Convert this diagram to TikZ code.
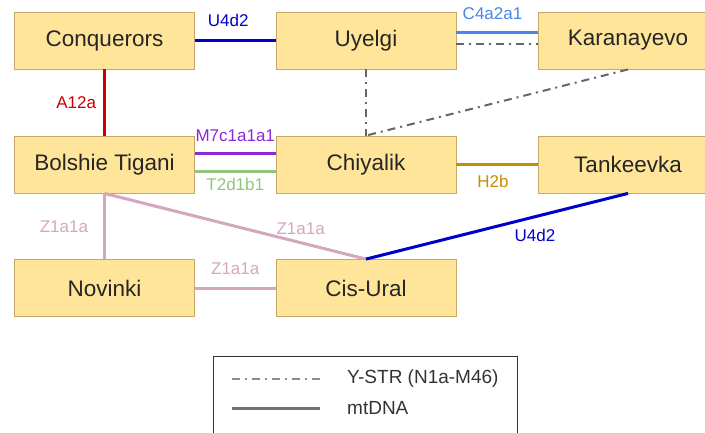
\documentclass[tikz,border=0pt]{standalone}
\usepackage{fontspec}
\setmainfont{Liberation Sans}
\usetikzlibrary{positioning}
\definecolor{sitefill}{RGB}{255,229,153}
\definecolor{siteline}{RGB}{200,168,105}
\definecolor{ublue}{RGB}{0,0,204}
\definecolor{cblue}{RGB}{74,134,232}
\definecolor{ared}{RGB}{204,0,0}
\definecolor{mpurple}{RGB}{140,40,215}
\definecolor{tgreen}{RGB}{147,196,125}
\definecolor{holive}{RGB}{191,144,0}
\definecolor{zpink}{RGB}{213,166,189}
\definecolor{ygray}{RGB}{102,102,102}
\begin{document}
\begin{tikzpicture}[x=1pt,y=-1pt,
    site/.style={draw=siteline,fill=sitefill,line width=0.8pt,minimum width=180pt,minimum height=57pt,inner sep=0pt,text=black!85,font=\fontsize{22.5}{27}\selectfont},
    lbl/.style={inner sep=1pt,font=\fontsize{17}{20}\selectfont},
    mt/.style={line width=3pt},
    ystr/.style={draw=ygray,line width=2pt,dash pattern=on 8pt off 5pt on 2pt off 5pt}]
        \useasboundingbox (0,0) rectangle (705,432);
        \node[site] (conq) at (104.5,40.5) {Conquerors};
        \node[site] (uyel) at (366,40.5) {Uyelgi};
        \node[site] (kara) at (628,40.5) {Karanayevo};
        \node[site] (bols) at (104.5,164.5) {Bolshie Tigani};
        \node[site] (chiy) at (366,164.5) {Chiyalik};
        \node[site] (tank) at (628,164.5) {Tankeevka};
        \node[site] (novi) at (104.5,288) {Novinki};
        \node[site] (cisu) at (366,288) {Cis-Ural};
        % mtDNA
        \draw[mt,ublue] (conq) -- node[lbl,above=11pt,xshift=-7pt] {U4d2} (uyel);
        \draw[mt,cblue] ([yshift=8.5pt]uyel.east) -- node[lbl,above=10pt,xshift=-4.5pt] {C4a2a1} ([yshift=8.5pt]kara.west);
        \draw[mt,ared] (conq) -- node[lbl,left=6pt] {A12a} (bols);
        \draw[mt,mpurple] ([yshift=11.5pt]bols.east) -- node[lbl,above=9pt] {M7c1a1a1} ([yshift=11.5pt]chiy.west);
        \draw[mt,tgreen] ([yshift=-6.5pt]bols.east) -- node[lbl,below=5pt] {T2d1b1} ([yshift=-6.5pt]chiy.west);
        \draw[mt,holive] (chiy) -- node[lbl,below=8pt,xshift=-4pt] {H2b} (tank);
        \draw[mt,zpink] (bols) -- node[lbl,left=14pt] {Z1a1a} (novi);
        \draw[mt,zpink] (bols.south) -- node[lbl,pos=0.75,above=6pt] {Z1a1a} (cisu.north);
        \draw[mt,zpink] (novi) -- node[lbl,above=11pt] {Z1a1a} (cisu);
        \draw[mt,ublue] (cisu.north) -- node[lbl,pos=0.645,below=10pt] {U4d2} (tank.south);
        % Y-STR
        \draw[ystr] ([yshift=-3.5pt]uyel.east) -- ([yshift=-3.5pt]kara.west);
        \draw[ystr] (uyel) -- (chiy);
        \draw[ystr] (kara.south) -- (chiy.north);
        % legend
        \draw[black!80,line width=1pt] (213,356) rectangle (517,445);
        \coordinate (ya) at (232,379);
        \coordinate (yb) at (320,379);
        \coordinate (ma) at (232,408);
        \coordinate (mb) at (320,408);
        \draw[ystr,draw=black!45] (ya) -- (yb);
        \draw[mt,black!55] (ma) -- (mb);
        \node[anchor=west,inner sep=0pt,text=black!80,font=\fontsize{19}{23}\selectfont] (ytxt) at (347,379) {Y-STR (N1a-M46)};
        \node[anchor=west,inner sep=0pt,text=black!80,font=\fontsize{19}{23}\selectfont] (mtxt) at (347,408) {mtDNA};
      \end{tikzpicture}
\end{document}
